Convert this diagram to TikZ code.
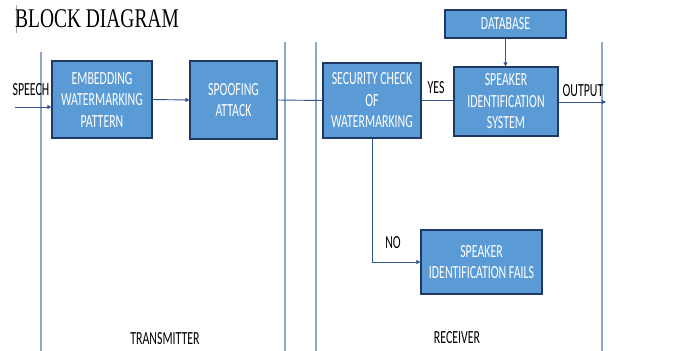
\documentclass[tikz,border=0pt]{standalone}
\usepackage{fontspec}
\usetikzlibrary{arrows.meta}
\newfontfamily\calfont[FakeStretch=0.64]{Carlito}
\newfontfamily\titlefont[FakeStretch=0.72]{Liberation Serif}
\definecolor{boxfill}{HTML}{5B9BD5}
\definecolor{boxedge}{HTML}{1F3864}
\definecolor{arrowc}{HTML}{2F5597}
\definecolor{sepc}{HTML}{8EA6C8}
\tikzset{
  box/.style={draw=boxedge, line width=1.3pt, fill=boxfill, text=white, align=center,
    font=\calfont\fontsize{18.5}{21.5}\selectfont, inner sep=0pt},
  lbl/.style={font=\calfont\fontsize{18.5}{21.5}\selectfont, text=black, inner sep=0pt},
  arr/.style={draw=arrowc, line width=0.9pt, -{Triangle[length=4pt,width=4pt]}},
  link/.style={draw=arrowc, line width=0.9pt},
  sep/.style={draw=sepc, line width=1.1pt}
}
\begin{document}
\begin{tikzpicture}[x=1pt,y=-1pt]
\useasboundingbox[fill=white] (0,0) rectangle (678,351);
% separators
\draw[sep] (41,52) -- (41,351);
\draw[sep] (285,42) -- (285,351);
\draw[sep] (316,42) -- (316,351);
\draw[sep] (602,42) -- (602,351);
% title
\draw[gray!70, line width=0.6pt] (16,5) -- (16,33);
\node[anchor=west, inner sep=0pt, font=\titlefont\fontsize{27}{30}\selectfont] (title) at (15,19) {BLOCK DIAGRAM};
% boxes
\node[box, minimum width=100pt, minimum height=77pt] (emb) at (102,99.5) {EMBEDDING\\WATERMARKING\\PATTERN};
\node[box, minimum width=87pt, minimum height=78pt] (spoof) at (233.5,100) {SPOOFING\\ATTACK};
\node[box, minimum width=98pt, minimum height=75pt] (sec) at (372,100.5) {SECURITY CHECK\\OF\\WATERMARKING};
\node[box, minimum width=104pt, minimum height=69pt] (sid) at (506,101.5) {SPEAKER\\IDENTIFICATION\\SYSTEM};
\node[box, minimum width=121pt, minimum height=28pt] (db) at (505.5,24) {DATABASE};
\node[box, minimum width=121pt, minimum height=64pt] (fail) at (481.5,262) {SPEAKER\\IDENTIFICATION FAILS};
% connectors
\coordinate (sp) at (15,107);
\draw[arr] (sp) -- (sp -| emb.west);
\draw[arr] (emb.east) -- (spoof.west);
\draw[link] (spoof.east) -- (sec.west);
\draw[link] (sec.east) -- (sec.east -| sid.west);
\draw[arr] (db.south) -- (db.south |- sid.north);
\coordinate (out) at (606,102);
\draw[arr] (sid.east |- out) -- (out);
\draw[arr] (sec.south) |- (fail.west);
% labels
\node[lbl] (speech) at (31,90) {SPEECH};
\node[lbl] (yes) at (436,88) {YES};
\node[lbl] (output) at (583,91) {OUTPUT};
\node[lbl] (no) at (393,243) {NO};
\node[lbl] (tx) at (165,339) {TRANSMITTER};
\node[lbl] (rx) at (457,338) {RECEIVER};
\end{tikzpicture}
\end{document}
